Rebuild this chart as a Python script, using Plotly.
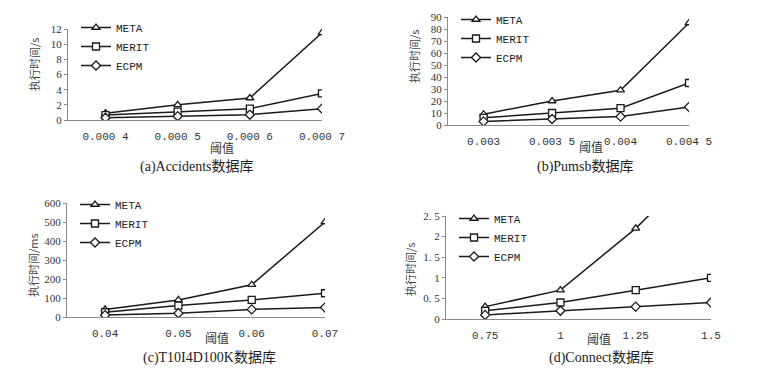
import plotly.graph_objects as go

# ---- data ----
series_names = ["META", "MERIT", "ECPM"]

a_x = ["0.000 4", "0.000 5", "0.000 6", "0.000 7"]
a_meta = [0.9, 2.0, 2.9, 11.5]
a_merit = [0.65, 1.1, 1.5, 3.5]
a_ecpm = [0.3, 0.5, 0.7, 1.5]

b_x = ["0.003", "0.003 5", "0.004", "0.004 5"]
b_meta = [9, 20, 29, 85]
b_merit = [6, 10, 14, 35]
b_ecpm = [3, 5, 7, 15]

c_x = ["0.04", "0.05", "0.06", "0.07"]
c_meta = [40, 90, 170, 500]
c_merit = [25, 60, 90, 125]
c_ecpm = [10, 20, 40, 50]

d_x = ["0.75", "1", "1.25", "1.5"]
d_meta = [0.3, 0.7, 2.2, 4.0]
d_merit = [0.2, 0.4, 0.7, 1.0]
d_ecpm = [0.1, 0.2, 0.3, 0.4]

d_ytickvals = [0, 0.5, 1, 1.5, 2, 2.5]
d_yticktext = ["0", "0. 5", "1", "1. 5", "2", "2. 5"]

captions = ["(a)Accidents数据库", "(b)Pumsb数据库", "(c)T10I4D100K数据库", "(d)Connect数据库"]
ytitles = ["执行时间/s", "执行时间/s", "执行时间/ms", "执行时间/s"]
xtitle = "阈值"

# page is 766x373 with an 8px body margin around the figure
OFF = 8
W, H = 766 - 2 * OFF, 373 - 2 * OFF
def fx(px): return (px - OFF) / W
def fy(py): return 1 - (py - OFF) / H

symbols = ["triangle-up", "square", "diamond"]
LINE = "#1a1a1a"
AX = "#8a8a8a"

panels = [
    dict(x=a_x, ys=[a_meta, a_merit, a_ecpm], xd=(68, 322), yd=(29, 120), yr=[0, 12], dt=2,
         leg=(76, 13), xt=(222, 148), yt=(34, 65), cap=(197, 167)),
    dict(x=b_x, ys=[b_meta, b_merit, b_ecpm], xd=(448, 689), yd=(17, 125), yr=[0, 90], dt=10,
         leg=(456, 5), xt=(591, 147), yt=(414, 57), cap=(585, 167)),
    dict(x=c_x, ys=[c_meta, c_merit, c_ecpm], xd=(67, 325), yd=(203, 317), yr=[0, 600], dt=100,
         leg=(75, 190), xt=(217, 337), yt=(33, 265), cap=(210, 358)),
    dict(x=d_x, ys=[d_meta, d_merit, d_ecpm], xd=(446, 711), yd=(216, 319), yr=[0, 2.5], dt=0.5,
         leg=(454, 204), xt=(599, 338), yt=(410, 270), cap=(601, 358)),
]

fig = go.Figure()
annotations = []
layout = dict(width=W, height=H, margin=dict(l=0, r=0, t=0, b=0, autoexpand=False),
              paper_bgcolor="white", plot_bgcolor="white", showlegend=True)

for i, p in enumerate(panels):
    n = "" if i == 0 else str(i + 1)
    legname = "legend" + n
    for s, name in enumerate(series_names):
        fig.add_trace(go.Scatter(
            x=p["x"], y=p["ys"][s], name=name, mode="lines+markers",
            line=dict(color=LINE, width=1.5),
            marker=dict(symbol=symbols[s], size=7, color="white",
                        line=dict(color=LINE, width=1.3)),
            xaxis="x" + n, yaxis="y" + n, legend=legname,
        ))
    layout["xaxis" + n] = dict(
        domain=[fx(p["xd"][0]), fx(p["xd"][1])], anchor="y" + n, type="category",
        range=[-0.52, 3.0], showgrid=False, zeroline=False, showline=True,
        linecolor=AX, linewidth=1, ticks="", ticklabelstandoff=6, automargin=False,
        tickfont=dict(family="Liberation Mono", size=11, color="#333"),
    )
    yax = dict(
        domain=[fy(p["yd"][1]), fy(p["yd"][0])], anchor="x" + n,
        range=p["yr"], dtick=p["dt"], tick0=0, showgrid=False, zeroline=False,
        showline=True, linecolor=AX, linewidth=1, ticks="outside", ticklen=3, automargin=False,
        tickcolor=AX, tickfont=dict(family="Liberation Serif", size=11, color="#333"),
    )
    if i == 3:
        yax.update(tickmode="array", tickvals=d_ytickvals, ticktext=d_yticktext)
    layout["yaxis" + n] = yax
    layout[legname] = dict(
        x=fx(p["leg"][0]), y=fy(p["leg"][1]), xanchor="left", yanchor="top",
        bgcolor="rgba(0,0,0,0)", font=dict(family="Liberation Mono", size=11, color="#222"),
        itemwidth=30, tracegroupgap=0,
    )
    common = dict(xref="paper", yref="paper", showarrow=False, xanchor="center", yanchor="middle")
    annotations.append(dict(text=xtitle, x=fx(p["xt"][0]), y=fy(p["xt"][1]), **common,
                            font=dict(family="Noto Sans CJK SC", size=12, color="#333")))
    annotations.append(dict(text=ytitles[i], x=fx(p["yt"][0]), y=fy(p["yt"][1]), textangle=-90, **common,
                            font=dict(family="Noto Sans CJK SC", size=11, color="#444")))
    annotations.append(dict(text=captions[i], x=fx(p["cap"][0]), y=fy(p["cap"][1]), **common,
                            font=dict(family="Liberation Serif, Noto Sans CJK SC", size=14, color="#222")))

layout["annotations"] = annotations
fig.update_layout(**layout)
fig.write_html("out.html")
